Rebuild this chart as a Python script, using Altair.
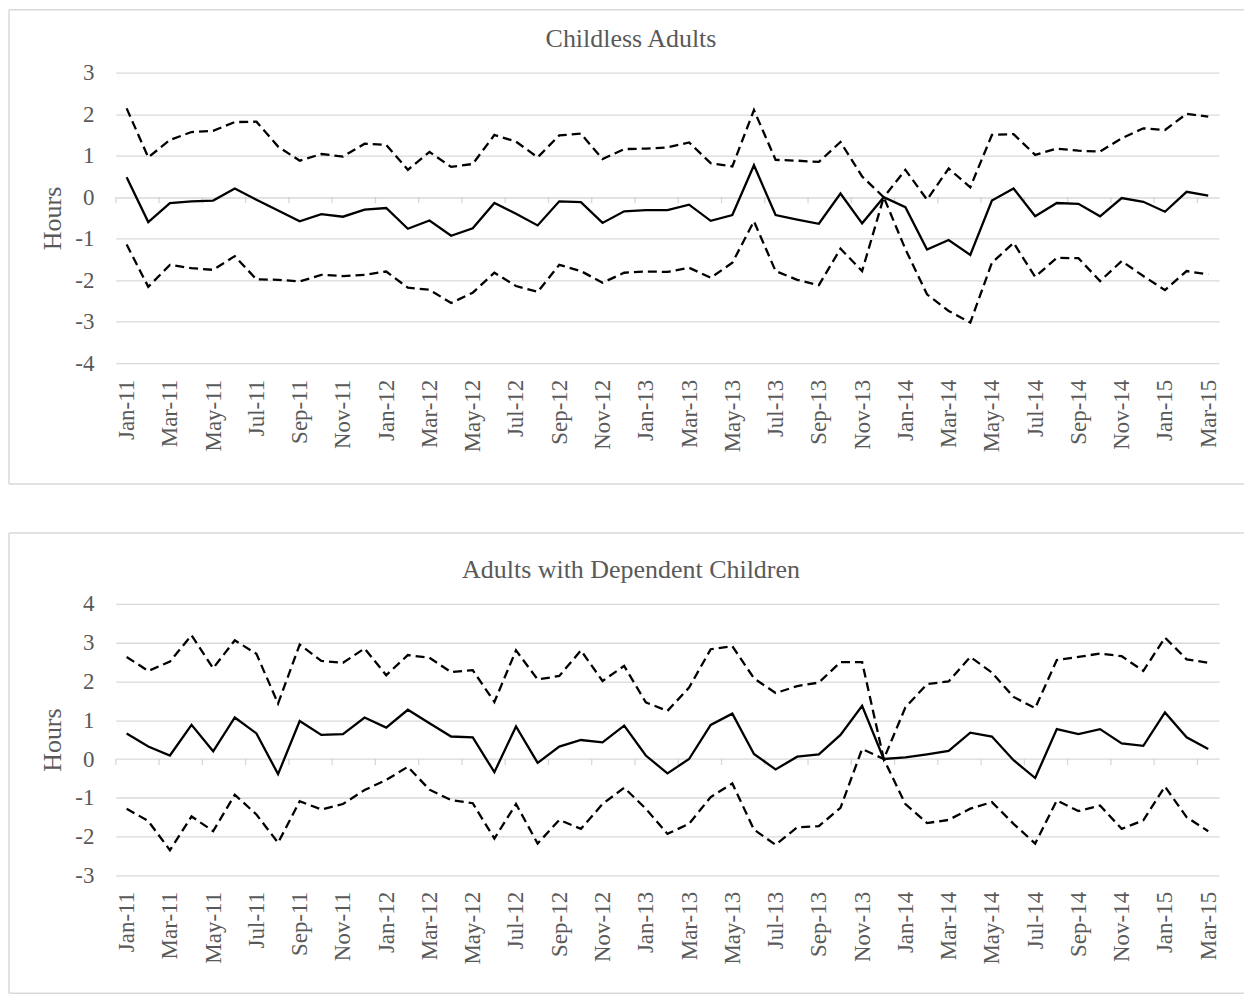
import altair as alt
import pandas as pd

months = [
    "Jan-11", "Feb-11", "Mar-11", "Apr-11", "May-11", "Jun-11", "Jul-11", "Aug-11", "Sep-11", "Oct-11", "Nov-11", "Dec-11",
    "Jan-12", "Feb-12", "Mar-12", "Apr-12", "May-12", "Jun-12", "Jul-12", "Aug-12", "Sep-12", "Oct-12", "Nov-12", "Dec-12",
    "Jan-13", "Feb-13", "Mar-13", "Apr-13", "May-13", "Jun-13", "Jul-13", "Aug-13", "Sep-13", "Oct-13", "Nov-13", "Dec-13",
    "Jan-14", "Feb-14", "Mar-14", "Apr-14", "May-14", "Jun-14", "Jul-14", "Aug-14", "Sep-14", "Oct-14", "Nov-14", "Dec-14",
    "Jan-15", "Feb-15", "Mar-15",
]

childless_est = [
    0.48, -0.60, -0.14, -0.10, -0.08, 0.21, -0.06, -0.32, -0.58, -0.41, -0.47, -0.30,
    -0.26, -0.76, -0.56, -0.93, -0.75, -0.14, -0.40, -0.68, -0.10, -0.12, -0.62, -0.34,
    -0.31, -0.31, -0.18, -0.57, -0.43, 0.77, -0.43, -0.54, -0.64, 0.09, -0.63, 0.00,
    -0.24, -1.26, -1.03, -1.39, -0.08, 0.21, -0.46, -0.14, -0.16, -0.46, -0.02, -0.11,
    -0.35, 0.13, 0.04,
]
childless_hi = [
    2.14, 0.96, 1.38, 1.57, 1.60, 1.81, 1.82, 1.22, 0.88, 1.04, 0.98, 1.29,
    1.26, 0.66, 1.09, 0.73, 0.80, 1.50, 1.34, 0.96, 1.49, 1.53, 0.92, 1.16,
    1.17, 1.20, 1.32, 0.82, 0.74, 2.10, 0.90, 0.88, 0.85, 1.33, 0.50, 0.00,
    0.66, -0.06, 0.69, 0.24, 1.50, 1.52, 1.02, 1.17, 1.12, 1.10, 1.42, 1.66,
    1.62, 2.01, 1.94,
]
childless_lo = [
    -1.14, -2.16, -1.63, -1.71, -1.75, -1.42, -1.98, -1.99, -2.03, -1.87, -1.90, -1.87,
    -1.79, -2.18, -2.23, -2.55, -2.30, -1.82, -2.14, -2.28, -1.63, -1.78, -2.06, -1.82,
    -1.79, -1.80, -1.70, -1.94, -1.58, -0.58, -1.78, -1.99, -2.12, -1.24, -1.78, 0.00,
    -1.25, -2.34, -2.74, -3.02, -1.58, -1.10, -1.92, -1.46, -1.47, -2.02, -1.54, -1.90,
    -2.24, -1.78, -1.86,
]

parents_est = [
    0.66, 0.32, 0.09, 0.88, 0.20, 1.07, 0.66, -0.39, 0.98, 0.62, 0.64, 1.07,
    0.81, 1.27, 0.92, 0.58, 0.56, -0.34, 0.84, -0.10, 0.32, 0.49, 0.43, 0.86,
    0.09, -0.37, 0.00, 0.88, 1.17, 0.13, -0.27, 0.06, 0.12, 0.62, 1.37, 0.00,
    0.04, 0.12, 0.21, 0.68, 0.58, -0.03, -0.49, 0.77, 0.64, 0.77, 0.40, 0.34,
    1.20, 0.56, 0.26,
]
parents_hi = [
    2.63, 2.27, 2.51, 3.19, 2.34, 3.06, 2.71, 1.43, 2.95, 2.53, 2.48, 2.85,
    2.16, 2.68, 2.61, 2.24, 2.29, 1.47, 2.80, 2.05, 2.14, 2.80, 2.01, 2.40,
    1.46, 1.24, 1.84, 2.83, 2.91, 2.08, 1.70, 1.88, 1.97, 2.50, 2.50, 0.00,
    1.33, 1.93, 2.00, 2.63, 2.23, 1.60, 1.31, 2.55, 2.63, 2.72, 2.65, 2.27,
    3.13, 2.57, 2.48,
]
parents_lo = [
    -1.28, -1.60, -2.35, -1.48, -1.86, -0.92, -1.43, -2.16, -1.09, -1.30, -1.16, -0.80,
    -0.54, -0.20, -0.79, -1.06, -1.14, -2.05, -1.16, -2.18, -1.57, -1.80, -1.16, -0.74,
    -1.28, -1.93, -1.67, -0.98, -0.63, -1.82, -2.21, -1.76, -1.73, -1.26, 0.26, 0.00,
    -1.16, -1.65, -1.57, -1.28, -1.11, -1.67, -2.18, -1.07, -1.34, -1.20, -1.80, -1.58,
    -0.71, -1.50, -1.86,
]

childless_ticks = [-4, -3, -2, -1, 0, 1, 2, 3]
parents_ticks = [-3, -2, -1, 0, 1, 2, 3, 4]

GRID = "#d9d9d9"
TEXT = "#595959"
FONT = "Liberation Serif"

n = len(months)
label_values = list(range(0, n, 2))
tick_positions = [i - 0.5 for i in range(0, n, 2)]
label_expr = "[" + ",".join("'" + m + "'" for m in months) + "][round(datum.value)]"


def panel(title, est, hi, lo, yticks, plot_h, box_top, box_bottom):
    est_df = pd.DataFrame({"idx": list(range(n)), "v": est})
    bounds_df = pd.DataFrame({
        "idx": list(range(n)) * 2,
        "bound": ["hi"] * n + ["lo"] * n,
        "v": list(hi) + list(lo),
    })
    tick_df = pd.DataFrame({"idx": tick_positions, "v": [0] * len(tick_positions)})
    one = pd.DataFrame({"a": [0]})

    x_enc = alt.X(
        "idx:Q",
        scale=alt.Scale(domain=[-0.5, n - 0.5], nice=False, zero=False),
        axis=alt.Axis(
            values=label_values, labelExpr=label_expr, labelAngle=-90,
            ticks=False, tickSize=0, domain=False, grid=False,
            labelPadding=16, labelFlush=False, labelOverlap=False,
            labelFont=FONT, labelFontSize=23, labelColor=TEXT, title=None,
        ),
    )
    y_enc = alt.Y(
        "v:Q",
        scale=alt.Scale(domain=[min(yticks), max(yticks)], nice=False, zero=False),
        axis=alt.Axis(
            values=yticks, ticks=False, domain=False, grid=True,
            gridColor=GRID, gridWidth=1.3,
            labelExpr="replace(datum.label, '\u2212', '-')",
            labelFont=FONT, labelFontSize=23, labelColor=TEXT, labelPadding=22,
            title="Hours", titleFont=FONT, titleFontSize=26, titleColor=TEXT,
            titleFontWeight="normal", titlePadding=9,
        ),
    )

    frame_style = dict(color=GRID, strokeWidth=1.5)
    left = alt.Chart(one).mark_rule(**frame_style).encode(
        x=alt.value(-107), y=alt.value(box_top), y2=alt.value(box_bottom))
    top_edge = alt.Chart(one).mark_rule(**frame_style).encode(
        x=alt.value(-107), x2=alt.value(1130), y=alt.value(box_top))
    bottom_edge = alt.Chart(one).mark_rule(**frame_style).encode(
        x=alt.value(-107), x2=alt.value(1130), y=alt.value(box_bottom))
    heading = alt.Chart(pd.DataFrame({"t": [title]})).mark_text(
        font=FONT, fontSize=26, color=TEXT, align="center", baseline="alphabetic"
    ).encode(text="t:N", x=alt.value(516), y=alt.value(-25.5))
    ticks = alt.Chart(tick_df).mark_tick(
        orient="vertical", size=6, thickness=1.3, color="#c8c8c8", yOffset=3
    ).encode(x=x_enc, y=y_enc)
    dashed = alt.Chart(bounds_df).mark_line(
        color="black", strokeWidth=2.3, strokeDash=[9, 5]
    ).encode(x=x_enc, y=y_enc, detail="bound:N")
    solid = alt.Chart(est_df).mark_line(
        color="black", strokeWidth=2.3
    ).encode(x=x_enc, y=y_enc)

    return alt.layer(left, top_edge, bottom_edge, heading, ticks, dashed, solid).properties(
        width=1105,
        height=plot_h,
    )


top = panel("Childless Adults", childless_est, childless_hi, childless_lo,
            childless_ticks, 291, -63, 412)
bottom = panel("Adults with Dependent Children", parents_est, parents_hi, parents_lo,
               parents_ticks, 272, -71, 390)

chart = alt.vconcat(top, bottom, spacing=47).properties(
    padding=0, background="white"
).configure_view(stroke=None)

chart.save("out.html", embed_options={"renderer": "svg", "actions": False})
